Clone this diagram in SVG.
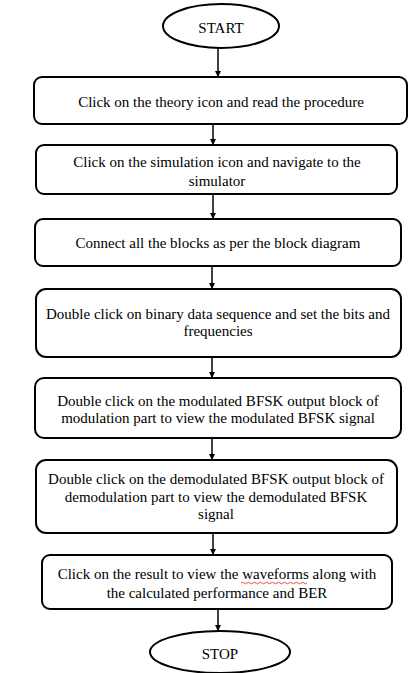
<svg xmlns="http://www.w3.org/2000/svg" width="419" height="673" viewBox="0 0 419 673">
<defs>
<style>
.box{fill:#fff;stroke:#000;stroke-width:2}
.t{font-family:"Liberation Serif","Times New Roman",serif;font-size:15px;fill:#000;text-anchor:middle}
.c{stroke:#000;stroke-width:1.5;fill:none;marker-end:url(#ah)}
</style>
<marker id="ah" viewBox="0 0 10 10" refX="10" refY="5" markerWidth="6" markerHeight="6" markerUnits="userSpaceOnUse" orient="auto">
<path d="M0,0 L10,5 L0,10 z" fill="#000"/>
</marker>
</defs>
<rect width="419" height="673" fill="#fff"/>
<g id="connectors">
<line class="c" x1="218" y1="48" x2="218" y2="77"/>
<line class="c" x1="213" y1="124" x2="213" y2="145"/>
<line class="c" x1="213" y1="194" x2="213" y2="219"/>
<line class="c" x1="212" y1="266" x2="212" y2="289"/>
<line class="c" x1="212" y1="357" x2="212" y2="378"/>
<line class="c" x1="212" y1="438" x2="212" y2="460"/>
<line class="c" x1="213" y1="533" x2="213" y2="555"/>
<line class="c" x1="218" y1="609" x2="218" y2="631"/>
</g>
<g id="start">
<ellipse class="box" cx="221" cy="26" rx="58" ry="22"/>
<text class="t" x="221" y="33">START</text>
</g>
<g id="step1">
<rect class="box" x="34" y="77" width="373" height="47" rx="8"/>
<text class="t" x="221" y="107">Click on the theory icon and read the procedure</text>
</g>
<g id="step2">
<rect class="box" x="36" y="145" width="361" height="49" rx="8"/>
<text class="t" x="217" y="167">Click on the simulation icon and navigate to the</text>
<text class="t" x="217" y="186">simulator</text>
</g>
<g id="step3">
<rect class="box" x="35" y="219" width="366" height="47" rx="8"/>
<text class="t" x="218" y="248">Connect all the blocks as per the block diagram</text>
</g>
<g id="step4">
<rect class="box" x="36" y="289" width="365" height="68" rx="10"/>
<text class="t" x="218" y="319">Double click on binary data sequence and set the bits and</text>
<text class="t" x="218" y="336">frequencies</text>
</g>
<g id="step5">
<rect class="box" x="35" y="378" width="366" height="60" rx="9"/>
<text class="t" x="218" y="406">Double click on the modulated BFSK output block of</text>
<text class="t" x="218" y="423">modulation part to view the modulated BFSK signal</text>
</g>
<g id="step6">
<rect class="box" x="36" y="460" width="361" height="73" rx="10"/>
<text class="t" x="216" y="484">Double click on the demodulated BFSK output block of</text>
<text class="t" x="216" y="502">demodulation part to view the demodulated BFSK</text>
<text class="t" x="216" y="519">signal</text>
</g>
<g id="step7">
<rect class="box" x="42" y="555" width="350" height="54" rx="8"/>
<text class="t" x="217" y="579">Click on the result to view the waveforms along with</text>
<text class="t" x="217" y="598">the calculated performance and BER</text>
<path d="M241,583 q1.5,-1.5 3,0 t3,0 t3,0 t3,0 t3,0 t3,0 t3,0 t3,0 t3,0 t3,0 t3,0 t3,0 t3,0 t3,0 t3,0 t3,0 t3,0 t3,0 t3,0 t3,0 t3,0 t3,0" fill="none" stroke="#e02020" stroke-width="0.8"/>
</g>
<g id="stop">
<ellipse class="box" cx="220" cy="652" rx="70" ry="21"/>
<text class="t" x="220" y="659">STOP</text>
</g>
</svg>
